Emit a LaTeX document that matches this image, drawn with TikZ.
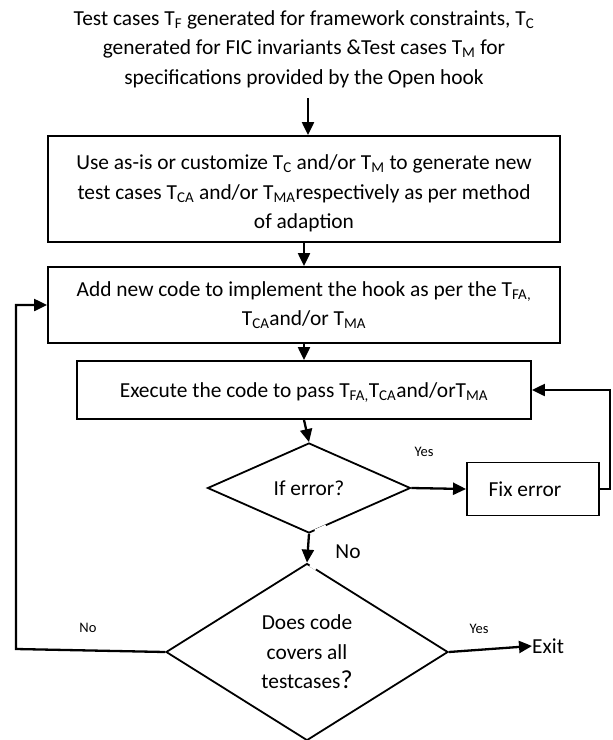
\documentclass[tikz,border=0pt]{standalone}
\usepackage{fontspec}
\setmainfont{Carlito}
\usetikzlibrary{arrows.meta,shapes.geometric}
\newcommand\tsub[1]{\textsubscript{#1}}
\begin{document}
\begin{tikzpicture}[x=1pt,y=-1pt,
  every node/.style={font=\fontsize{21.4}{29.5}\selectfont},
  procbox/.style={draw,line width=1.9pt,rectangle,inner sep=0pt,align=center},
  decision/.style={draw,line width=1.8pt,diamond,inner sep=0pt,align=center},
  flow/.style={line width=2.3pt,-{Triangle[length=13pt,width=12pt]}},
  small/.style={font=\fontsize{14.5}{16}\selectfont}]
\useasboundingbox (0,0) rectangle (613,740);

% title text
\node[align=center] (title) at (304,49)
  {Test cases T\tsub{F} generated for framework constraints, T\tsub{C}\\
   generated for FIC invariants \&Test cases T\tsub{M} for\\
   specifications provided by the Open hook};

% process boxes
\node[procbox,minimum width=512pt,minimum height=106pt] (b1) at (304,189)
  {\rule{0pt}{24pt}Use as-is or customize T\tsub{C} and/or T\tsub{M} to generate new\\
   test cases T\tsub{CA} and/or T\tsub{MA}respectively as per method\\
   of adaption};
\node[procbox,minimum width=512pt,minimum height=76pt] (b2) at (304,305)
  {Add new code to implement the hook as per the T\tsub{FA,}\\
   T\tsub{CA}and/or T\tsub{MA}};
\node[procbox,minimum width=454pt,minimum height=58pt] (b3) at (304,390)
  {\rule{0pt}{20pt}Execute the code to pass T\tsub{FA,}T\tsub{CA}and/orT\tsub{MA}};

% decisions
\node[decision,minimum width=203pt,minimum height=90pt] (d1) at (309,488) {If error?};
\node[procbox,minimum width=132pt,minimum height=53pt] (fix) at (533,489) {Fix error\hspace{16pt}};
\node[decision,minimum width=282pt,minimum height=177pt] (d2) at (307,652)
  {Does code\\ covers all\\ testcases{\fontsize{26}{28}\selectfont?}};

% labels
\node[small] (lyes1) at (424,452) {Yes};
\node (lno1) at (348,552) {No};
\node[small] (lno2) at (88,628) {No};
\node[small] (lyes2) at (479,629) {Yes};
\node[anchor=west,inner sep=0pt] (exit) at (532,646) {Exit};

% connectors
\coordinate (tt) at (308,98);
\draw[flow] (tt) -- (b1.north -| tt);
\draw[flow] (b1.south) -- (b2.north);
\draw[flow] (b2.south) -- (b3.north);
\draw[flow] (b3.south) -- (d1.north);
\draw[flow] (d1.east) -- (fix.west);
\draw[flow] (d1.south) -- (d2.north);
\coordinate (rr) at (610,489);
\draw[flow] (fix.east) -- (rr) |- (b3.east);
\coordinate (ll) at (16,649);
\draw[flow] (d2.west) -- (ll) |- (b2.west);
\draw[flow] (d2.east) -- (exit.west);

% breaks in the diamond outlines
\draw[white,line width=3pt] (315,531) -- (326,526);
\draw[white,line width=3pt] (310,565) -- (316,569);
\end{tikzpicture}
\end{document}
